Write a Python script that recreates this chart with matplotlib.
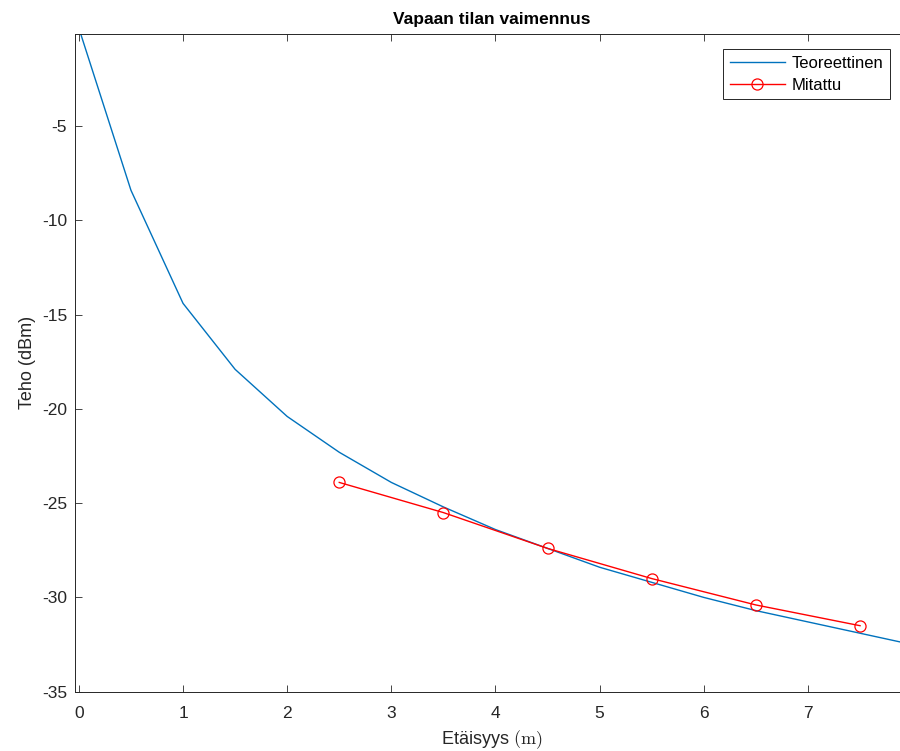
import matplotlib
matplotlib.use("Agg")
import matplotlib.pyplot as plt

theory_x = [0.0, 0.5, 1.0, 1.5, 2.0, 2.5, 3.0, 3.5, 4.0, 4.5, 5.0, 5.5, 6.0, 6.5, 7.0, 7.5, 8.0]
theory_y = [0.2, -8.4, -14.4, -17.9, -20.4, -22.3, -23.9, -25.2, -26.4, -27.4, -28.4, -29.2, -30.0, -30.7, -31.3, -31.9, -32.5]
meas_x = [2.5, 3.5, 4.5, 5.5, 6.5, 7.5]
meas_y = [-23.9, -25.5, -27.4, -29.0, -30.4, -31.5]
xticks = [0, 1, 2, 3, 4, 5, 6, 7]
yticks = [-35, -30, -25, -20, -15, -10, -5]

plt.rcParams['font.family'] = ['Liberation Sans', 'DejaVu Sans']
plt.rcParams['mathtext.fontset'] = 'cm'
plt.rcParams['axes.unicode_minus'] = False

fig = plt.figure(figsize=(9, 7.51), dpi=100)
ax = fig.add_axes([0.083, 0.079, 0.927, 0.876])

gray = (0.15, 0.15, 0.15)
blue = (0.0, 0.447, 0.741)
ax.plot(theory_x, theory_y, color=blue, lw=1.0, label='Teoreettinen')
ax.plot(meas_x, meas_y, color='red', lw=1.0, marker='o', ms=8, mfc='none',
        mec='red', mew=0.9, label='Mitattu')

ax.set_xlim(-0.04, 7.97)
ax.set_ylim(-35, -0.1)
ax.set_xticks(xticks)
ax.set_yticks(yticks)
ax.tick_params(direction='in', top=True, right=True, labelsize=12.5,
               colors=gray, length=5, width=0.6)
ax.tick_params(axis='x', pad=10.5)
ax.tick_params(axis='y', pad=5.5)
for s in ax.spines.values():
    s.set_color(gray)
    s.set_linewidth(0.7)

ax.set_title('Vapaan tilan vaimennus', fontsize=12.5, fontweight='bold', pad=7)
ax.set_xlabel('Etäisyys $\\mathrm{(m)}$', fontsize=13, color=gray, labelpad=5)
ax.set_ylabel('Teho (dBm)', fontsize=13, color=gray, labelpad=4)

leg = ax.legend(loc='upper right', bbox_to_anchor=(0.977, 0.977), fontsize=12,
                fancybox=False, edgecolor=gray, framealpha=1,
                handlelength=3.3, handletextpad=0.4, borderpad=0.4,
                labelspacing=0.42, borderaxespad=0)
leg.get_frame().set_linewidth(0.7)

fig.savefig('out.png', dpi=100)
